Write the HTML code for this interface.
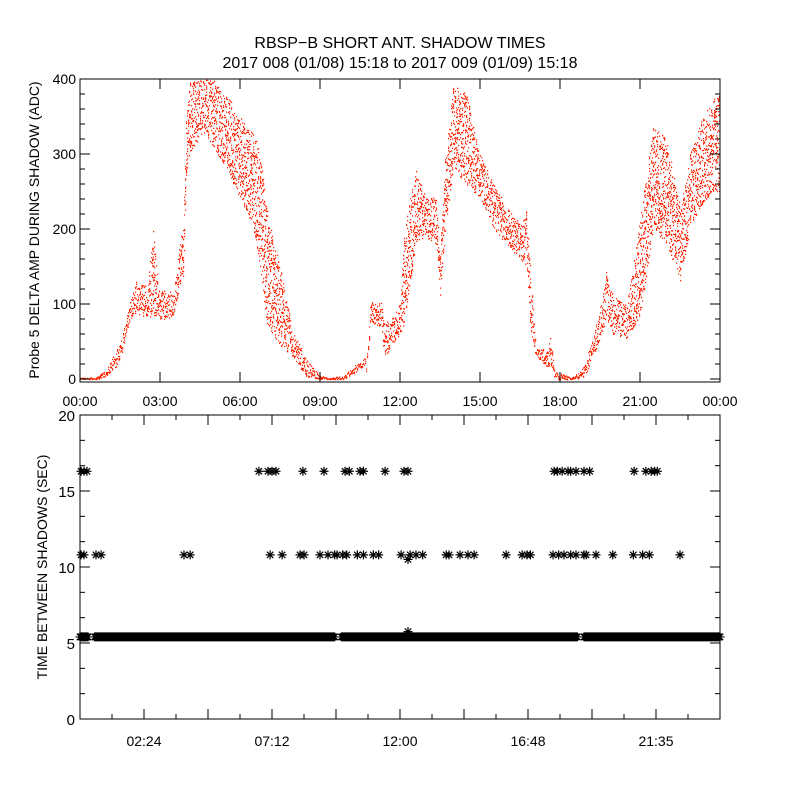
<!DOCTYPE html>
<html><head><meta charset="utf-8"><title>RBSP-B short antenna shadow times</title>
<style>
html,body{margin:0;padding:0;background:#fff;}
svg{display:block;font-family:"Liberation Sans","DejaVu Sans",sans-serif;}
text{fill:#000;}
</style></head>
<body>
<svg id="chart" width="800" height="800" viewBox="0 0 800 800" xmlns="http://www.w3.org/2000/svg">
<rect width="800" height="800" fill="#fff"/>
<text x="400" y="48" font-size="16" text-anchor="middle">RBSP−B SHORT ANT. SHADOW TIMES</text>
<text x="400" y="68" font-size="16" text-anchor="middle">2017 008 (01/08) 15:18 to 2017 009 (01/09) 15:18</text>
<g id="top"></g>
<g id="bottom"></g>
</svg>
<script>
// ---------- Top panel data (envelope of scatter, hours / ADC) ----------
const ampTimes = [0.0,0.3,0.69,1.0,1.38,1.6,1.88,2.13,2.5,2.75,2.94,3.1,3.5,3.88,4.0,4.13,4.6,5.0,5.5,6.0,6.5,6.75,7.0,7.5,8.0,8.25,8.5,9.0,9.4,9.9,10.4,10.75,10.9,11.3,11.4,11.6,11.9,12.0,12.12,12.3,12.6,12.9,13.35,13.5,13.7,14.0,14.5,15.0,15.5,16.0,16.5,16.75,16.9,17.1,17.5,17.65,17.8,18.4,18.8,19.0,19.4,19.75,20.0,20.5,21.0,21.5,22.0,22.5,22.9,23.3,23.7,24.0];
const ampLow   = [0,0,0,5,18,40,80,85,82,85,80,80,82,150,270,300,330,310,280,240,200,150,72,45,30,15,3,0,0,0,10,20,75,70,27,40,55,60,70,110,180,190,180,112,200,280,260,240,200,180,160,150,60,30,14,20,0,0,0,10,45,80,60,55,85,200,180,130,205,230,250,250];
const ampHigh  = [2,2,4,14,40,60,105,130,125,195,120,118,117,220,360,396,400,400,380,350,330,300,227,150,60,45,27,5,2,5,22,30,105,100,80,75,95,100,180,230,280,250,240,175,300,392,380,300,260,230,210,215,140,40,40,55,12,2,12,30,80,140,110,100,215,338,320,230,303,345,374,380];
const ampTickVals = [0,100,200,300,400];
const ampTickLabels = ["0","100","200","300","400"];
const topXTickHours = [0,3,6,9,12,15,18,21,24];
const topXTickLabels = ["00:00","03:00","06:00","09:00","12:00","15:00","18:00","21:00","00:00"];

// ---------- Bottom panel data ----------
const level16Times = [0.04,0.15,0.26,6.71,7.05,7.2,7.35,8.36,9.15,9.94,10.1,10.5,10.63,11.44,12.15,12.3,12.3,17.78,17.9,18.08,18.3,18.4,18.6,18.9,19.11,20.78,21.22,21.42,21.55,21.65];
const level16Vals = level16Times.map(()=>16.3);
const level11Times = [0.04,0.15,0.6,0.79,3.9,4.13,7.13,7.58,8.25,8.4,9.0,9.3,9.55,9.64,9.85,10.0,10.4,10.63,11.0,11.2,12.04,12.38,12.6,12.85,13.73,13.84,14.25,14.55,14.78,15.98,16.58,16.76,16.89,17.74,17.95,18.15,18.4,18.6,18.9,18.98,19.35,19.98,20.75,21.1,21.35,22.5];
const level11Vals = level11Times.map(()=>10.8);
const extraTimes = [12.3,12.3];
const extraVals = [10.5,5.75];
const bandStarts = [0.0,0.55,9.8,18.9];
const bandEnds   = [0.32,9.55,18.65,24.0];
const bandValue = 5.4;
const sepTickVals = [0,5,10,15,20];
const sepTickLabels = ["0","5","10","15","20"];
const botXTickHours = [2.4,7.2,12.0,16.8,21.6];
const botXTickLabels = ["02:24","07:12","12:00","16:48","21:35"];

const NS="http://www.w3.org/2000/svg";
function mk(tag,attrs,parent){const e=document.createElementNS(NS,tag);for(const k in attrs)e.setAttribute(k,attrs[k]);parent.appendChild(e);return e;}
function frac(v){return v-Math.floor(v);}

// ---------- Top panel ----------
const T={x0:80,x1:720,y0:79,y1:382,vmin:-4,vmax:400};
const tx=h=>T.x0+(h/24)*(T.x1-T.x0);
const ty=v=>T.y1-(v-T.vmin)/(T.vmax-T.vmin)*(T.y1-T.y0);
const gTop=document.getElementById('top');
let d="";
for(let i=0;i<ampTimes.length-1;i++){
  const xa=tx(ampTimes[i]), xb=tx(ampTimes[i+1]);
  for(let x=Math.floor(xa);x<Math.floor(xb);x++){
    const f=(x-xa)/Math.max(1e-6,xb-xa);
    const lo=ampLow[i]+(ampLow[i+1]-ampLow[i])*f;
    const hi=ampHigh[i]+(ampHigh[i+1]-ampHigh[i])*f;
    const yl=ty(lo), yh=ty(hi);
    const span=Math.max(1,yl-yh);
    const n=Math.max(2,Math.round(2+span*0.16));
    for(let k=0;k<n;k++){
      const q=frac(Math.sin(x*12.9898+k*78.233)*43758.5453);
      const y=yh+q*span;
      d+="M"+x+" "+y.toFixed(1)+"h1.2v1.3h-1.2z";
    }
  }
}
const dots=mk('path',{d:d,fill:'#ff2000'},gTop);


const frameT=mk('rect',{x:T.x0,y:T.y0,width:T.x1-T.x0,height:T.y1-T.y0,fill:'none',stroke:'#000','stroke-width':1},gTop);


for(let v=0;v<=400;v+=20){
  const y=ty(v), len=(v%100===0)?10:5;
  mk('line',{x1:T.x0,x2:T.x0+len,y1:y,y2:y,stroke:'#000'},gTop);
  mk('line',{x1:T.x1,x2:T.x1-len,y1:y,y2:y,stroke:'#000'},gTop);
}
ampTickVals.forEach((v,i)=>{
  const t=mk('text',{x:T.x0-4,y:ty(v)+5,'font-size':14,'text-anchor':'end'},gTop);
  t.textContent=ampTickLabels[i];
  
  
});
topXTickHours.forEach((h,i)=>{
  const x=tx(h);
  mk('line',{x1:x,x2:x,y1:T.y1,y2:T.y1-10,stroke:'#000'},gTop);
  mk('line',{x1:x,x2:x,y1:T.y0,y2:T.y0+10,stroke:'#000'},gTop);
  const t=mk('text',{x:x,y:406,'font-size':14,'text-anchor':'middle'},gTop);
  t.textContent=topXTickLabels[i];
  
  
});
const ylT=mk('text',{x:0,y:0,'font-size':14,'text-anchor':'middle',transform:'translate(39,230) rotate(-90)'},gTop);
ylT.textContent="Probe 5 DELTA AMP DURING SHADOW (ADC)";



// ---------- Bottom panel ----------
const B={x0:80,x1:720,y0:415,y1:719,vmin:0,vmax:20};
const bx=h=>B.x0+(h/24)*(B.x1-B.x0);
const by=v=>B.y1-(v-B.vmin)/(B.vmax-B.vmin)*(B.y1-B.y0);
const gBot=document.getElementById('bottom');
const frameB=mk('rect',{x:B.x0,y:B.y0,width:B.x1-B.x0,height:B.y1-B.y0,fill:'none',stroke:'#000','stroke-width':1},gBot);


for(let k=0;k<=12;k++){
  const v=k*5/3; const y=by(v);
  const len=(k%3===0)?10:5;
  mk('line',{x1:B.x0,x2:B.x0+len,y1:y,y2:y,stroke:'#000'},gBot);
  mk('line',{x1:B.x1,x2:B.x1-len,y1:y,y2:y,stroke:'#000'},gBot);
}
sepTickVals.forEach((v,i)=>{
  const t=mk('text',{x:B.x0-5,y:by(v)+6,'font-size':15,'text-anchor':'end'},gBot);
  t.textContent=sepTickLabels[i];
  
  
});
for(let k=0;k<=20;k++){
  const x=bx(k*1.2); const len=(k%2===0)?10:5;
  mk('line',{x1:x,x2:x,y1:B.y1,y2:B.y1-len,stroke:'#000'},gBot);
  mk('line',{x1:x,x2:x,y1:B.y0,y2:B.y0+len,stroke:'#000'},gBot);
}
botXTickHours.forEach((h,i)=>{
  const t=mk('text',{x:bx(h),y:746,'font-size':14,'text-anchor':'middle'},gBot);
  t.textContent=botXTickLabels[i];
  
  
});
const ylB=mk('text',{x:0,y:0,'font-size':14,'text-anchor':'middle',transform:'translate(47,567) rotate(-90)'},gBot);
ylB.textContent="TIME BETWEEN SHADOWS (SEC)";



function star(x,y){
  const r=4.5, r2=3.2;
  return "M"+(x-r)+" "+y+"H"+(x+r)+"M"+x+" "+(y-r)+"V"+(y+r)+
         "M"+(x-r2)+" "+(y-r2)+"L"+(x+r2)+" "+(y+r2)+"M"+(x-r2)+" "+(y+r2)+"L"+(x+r2)+" "+(y-r2);
}
let sd="";
level16Times.forEach((h,i)=>{sd+=star(bx(h),by(level16Vals[i]));});
level11Times.forEach((h,i)=>{sd+=star(bx(h),by(level11Vals[i]));});
extraTimes.forEach((h,i)=>{sd+=star(bx(h),by(extraVals[i]));});
for(let i=0;i<bandStarts.length;i++){
  for(let h=bandStarts[i];h<=bandEnds[i]+1e-9;h+=0.03){sd+=star(bx(h),by(bandValue));}
}
const stars=mk('path',{d:sd,stroke:'#000','stroke-width':1.2,fill:'none'},gBot);


</script>
</body></html>
